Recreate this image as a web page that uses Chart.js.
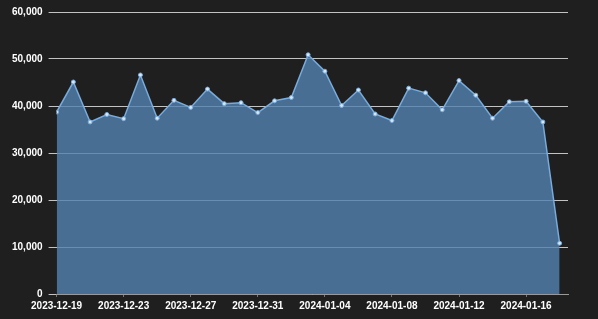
<!DOCTYPE html>
<html>
<head>
<meta charset="utf-8">
<script src="https://cdn.jsdelivr.net/npm/chart.js@4/dist/chart.umd.min.js"></script>
<style>
  html, body { margin: 0; padding: 0; background: #1f1f1f; }
  #wrap { width: 598px; height: 319px; }
</style>
</head>
<body>
<div id="wrap"><canvas id="c"></canvas></div>
<script>
const dates = [
  "2023-12-19","2023-12-20","2023-12-21","2023-12-22","2023-12-23","2023-12-24","2023-12-25","2023-12-26",
  "2023-12-27","2023-12-28","2023-12-29","2023-12-30","2023-12-31","2024-01-01","2024-01-02","2024-01-03",
  "2024-01-04","2024-01-05","2024-01-06","2024-01-07","2024-01-08","2024-01-09","2024-01-10","2024-01-11",
  "2024-01-12","2024-01-13","2024-01-14","2024-01-15","2024-01-16","2024-01-17","2024-01-18"
];
const values = [
  38700, 45100, 36600, 38200, 37300, 46600, 37400, 41200,
  39700, 43600, 40500, 40700, 38600, 41100, 41800, 50900,
  47400, 40100, 43400, 38300, 36900, 43800, 42800, 39200,
  45400, 42300, 37400, 40900, 41000, 36600, 10800
];
const xTickDates = ["2023-12-19","2023-12-23","2023-12-27","2023-12-31","2024-01-04","2024-01-08","2024-01-12","2024-01-16"];
const yTicks = [0, 10000, 20000, 30000, 40000, 50000, 60000];

const points = dates.map((d, i) => ({ x: i, y: values[i] }));
const font = { family: 'Liberation Sans, Arial, sans-serif', size: 10, weight: 'bold' };

new Chart(document.getElementById('c'), {
  type: 'line',
  data: {
    datasets: [{
      data: points,
      fill: 'origin',
      backgroundColor: 'rgba(82,130,178,0.8)',
      borderColor: '#78acde',
      borderWidth: 1.5,
      pointRadius: 2,
      pointBackgroundColor: '#d4e6f8',
      pointBorderColor: '#78acde',
      pointBorderWidth: 1,
      tension: 0
    }]
  },
  options: {
    responsive: true,
    maintainAspectRatio: false,
    animation: false,
    layout: { padding: { top: 10, right: 30, left: 6, bottom: 4 } },
    plugins: { legend: { display: false }, tooltip: { enabled: false } },
    scales: {
      x: {
        type: 'linear',
        min: 0,
        max: dates.length - 0.5,
        afterBuildTicks: function(axis) {
          axis.ticks = xTickDates.map(d => ({ value: dates.indexOf(d) }));
        },
        grid: { display: true, drawOnChartArea: false, drawTicks: true, tickLength: 3, color: '#777' },
        border: { display: true, color: '#999' },
        ticks: {
          maxRotation: 0,
          autoSkip: false,
          color: '#ffffff',
          font: font,
          padding: 3,
          callback: v => dates[v]
        }
      },
      y: {
        min: 0,
        max: 60000,
        afterBuildTicks: function(axis) { axis.ticks = yTicks.map(v => ({ value: v })); },
        grid: { color: 'rgba(225,225,225,0.85)', tickLength: 8, lineWidth: 1 },
        border: { display: false },
        ticks: {
          color: '#ffffff',
          font: font,
          padding: 6,
          callback: v => v.toLocaleString('en-US')
        }
      }
    }
  }
});
</script>
</body>
</html>
